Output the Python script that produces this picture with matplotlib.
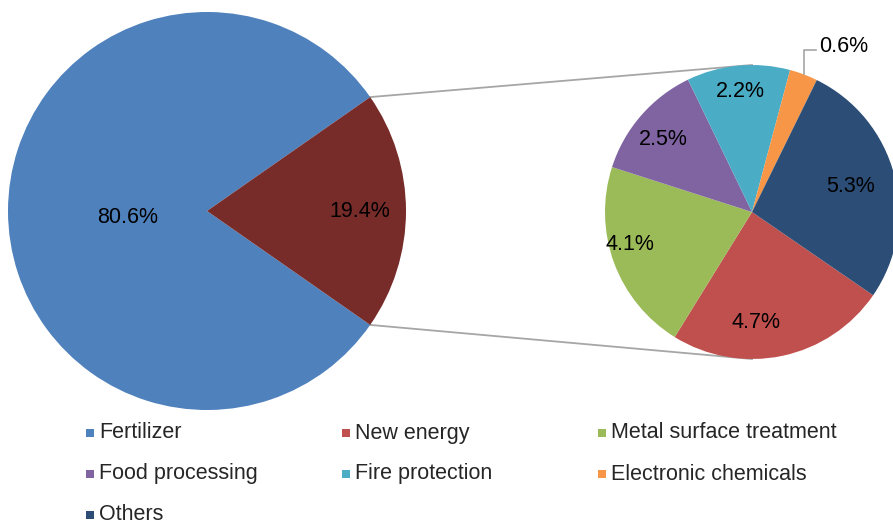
import numpy as np
import matplotlib
matplotlib.use("Agg")
import matplotlib.pyplot as plt

plt.rcParams["font.family"] = ["Liberation Sans", "DejaVu Sans"]

# Share of total consumption by application
main_labels = ["Fertilizer", "Other uses"]
main_values = [80.6, 19.4]

sub_labels = ["New energy", "Metal surface treatment", "Food processing",
              "Fire protection", "Electronic chemicals", "Others"]
sub_values = [4.7, 4.1, 2.5, 2.2, 0.6, 5.3]

legend_labels = ["Fertilizer", "New energy", "Metal surface treatment",
                 "Food processing", "Fire protection", "Electronic chemicals",
                 "Others"]

main_colors = ["#4F81BD", "#772C2A"]
sub_colors = ["#C0504D", "#9BBB59", "#8064A2", "#4BACC6", "#F79646", "#2C4D75"]
legend_colors = ["#4F81BD"] + sub_colors

W, H = 893, 524
FS = 15.5

fig = plt.figure(figsize=(W / 100, H / 100), dpi=100)
ax = fig.add_axes([0, 0, 1, 1])


def top(y):
    """Convert a distance from the top edge into axis y."""
    return H - y


# Main pie: the "other uses" slice is centred on the right-hand side
main_total = sum(main_values)
main_start = -main_values[1] / main_total * 360 / 2
main_wedges, _ = ax.pie(main_values, colors=main_colors, startangle=main_start,
                        counterclock=False, center=(207, top(211)), radius=199,
                        wedgeprops=dict(linewidth=0))

# Secondary pie breaking down the "other uses" slice
sub_wedges, _ = ax.pie(sub_values, colors=sub_colors, startangle=-34.5,
                       counterclock=False, center=(752, top(212)), radius=147,
                       wedgeprops=dict(linewidth=0))


def wedge_point(w, frac, angle=None, nudge=0.0):
    if angle is None:
        angle = (w.theta1 + w.theta2) / 2
    a = np.deg2rad(angle + nudge)
    cx, cy = w.center
    return cx + frac * w.r * np.cos(a), cy + frac * w.r * np.sin(a)


# Percentage labels: (radial fraction, angular nudge in degrees)
main_label_pos = [(0.40, 5.0), (0.77, 0.0)]
for w, v, (f, d) in zip(main_wedges, main_values, main_label_pos):
    x, y = wedge_point(w, f, nudge=d)
    ax.text(x, y, f"{v:.1f}%", ha="center", va="center", fontsize=FS,
            color="black")

sub_label_pos = [(0.75, -10.0), (0.86, -5.5), (0.78, 2.0), (0.82, 0.0),
                 None, (0.69, 0.0)]
for w, v, pos in zip(sub_wedges, sub_values, sub_label_pos):
    if pos is None:
        # small slice: label outside with an elbow leader line
        x0, y0 = wedge_point(w, 1.0)
        x1, y1 = x0, y0 + 24
        x2 = x1 + 12
        ax.plot([x0, x1, x2], [y0, y1, y1], color="#A6A6A6", lw=1.2,
                solid_joinstyle="miter")
        ax.text(x2 + 3, y1 + 4, f"{v:.1f}%", ha="left", va="center",
                fontsize=FS, color="black")
        continue
    f, d = pos
    x, y = wedge_point(w, f, nudge=d)
    ax.text(x, y, f"{v:.1f}%", ha="center", va="center", fontsize=FS,
            color="black")

# Connector lines from the split slice to the secondary pie
split = main_wedges[1]
p_up = wedge_point(split, 1.0, split.theta2)
p_dn = wedge_point(split, 1.0, split.theta1)
scx, scy = sub_wedges[0].center
sr = sub_wedges[0].r
ax.plot([p_up[0], scx], [p_up[1], scy + sr], color="#A6A6A6", lw=1.3, zorder=0.5)
ax.plot([p_dn[0], scx], [p_dn[1], scy - sr], color="#A6A6A6", lw=1.3, zorder=0.5)

# Legend laid out in three columns, row by row
for i, (name, c) in enumerate(zip(legend_labels, legend_colors)):
    row, col = divmod(i, 3)
    x = 90 + 256 * col
    y = top(433 + 41 * row)
    ax.scatter([x], [y], marker="s", s=36, color=c, linewidths=0)
    ax.text(x + 9, y, name, ha="left", va="center", fontsize=FS,
            color="#262626")

ax.set_xlim(0, W)
ax.set_ylim(0, H)
ax.set_aspect("equal")
ax.axis("off")

fig.savefig("out.png", dpi=100)
